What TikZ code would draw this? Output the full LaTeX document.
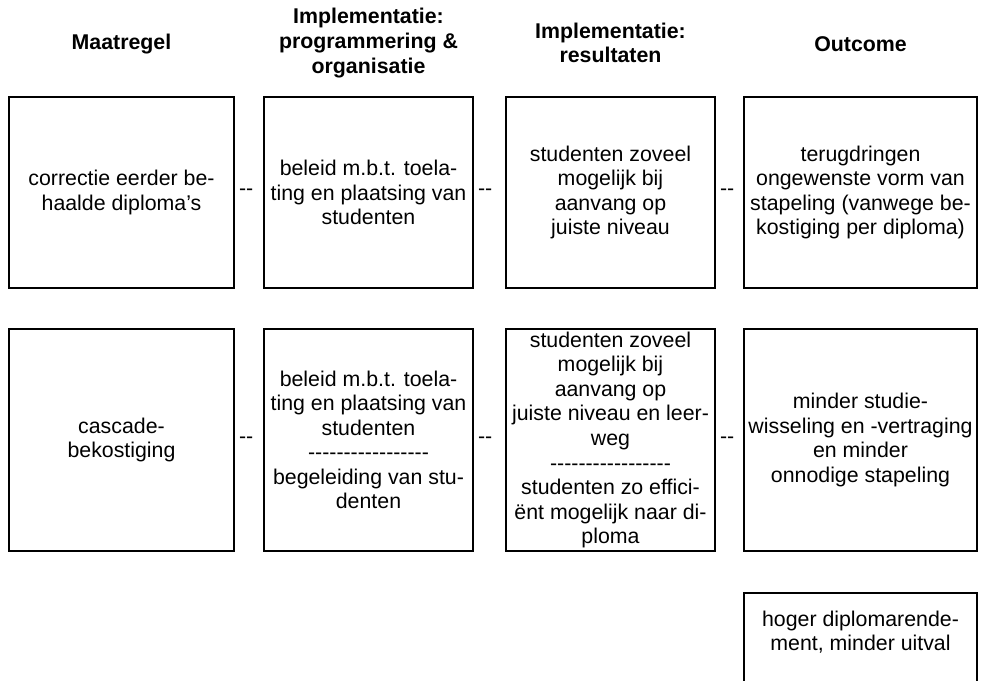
\documentclass[tikz,border=0pt]{standalone}
\usepackage{fontspec}
\setmainfont{Liberation Sans}
\usetikzlibrary{positioning}
\newcommand\dashrow{-{}-{}-{}-{}-{}-{}-{}-{}-{}-{}-{}-{}-{}-{}-{}-{}-}

\begin{document}
\begin{tikzpicture}[x=0.75pt,y=-0.75pt,
  cell/.style={draw,line width=1.3pt,inner sep=0pt,align=center,font=\fontsize{16}{18.4}\selectfont},
  head/.style={inner sep=0pt,align=center,font=\bfseries\fontsize{16}{18.4}\selectfont},
  link/.style={inner sep=0pt,font=\fontsize{16}{18.4}\selectfont},
  wa/.style={minimum width=168.75pt},
  wb/.style={minimum width=156.75pt},
  wc/.style={minimum width=174.75pt},
  ha/.style={minimum height=143.25pt},
  hb/.style={minimum height=166.5pt}]
\clip (0,0) rectangle (981,681);
% column heads
\node[head] (hm) at (121.5,44) {Maatregel};
\node[head] (hp) at (368.5,43) {Implementatie:\\programmering \&\\organisatie};
\node[head] (hr) at (610.5,43) {Implementatie:\\resultaten};
\node[head] (ho) at (860.5,44) {Outcome};
% first row
\node[cell,wa,ha] (m1) at (121.5,192.5) {correctie eerder be-\\haalde diploma’s};
\node[cell,wb,ha] (p1) at (368.5,192.5) {beleid m.b.t. toela-\\ting en plaatsing van\\studenten};
\node[cell,wb,ha] (r1) at (610.5,192.5) {studenten zoveel\\mogelijk bij\\aanvang op\\juiste niveau};
\node[cell,wc,ha] (o1) at (860.5,192.5) {terugdringen\\ongewenste vorm van\\stapeling (vanwege be-\\kostiging per diploma)};
% second row
\node[cell,wa,hb] (m2) at (121.5,440) {cascade-\\bekostiging};
\node[cell,wb,hb] (p2) at (368.5,440) {beleid m.b.t. toela-\\ting en plaatsing van\\studenten\\\dashrow\\begeleiding van stu-\\denten};
\node[cell,wb,hb] (r2) at (610.5,440) {studenten zoveel\\mogelijk bij\\aanvang op\\juiste niveau en leer-\\weg\\\dashrow\\studenten zo effici-\\ënt mogelijk naar di-\\ploma};
\node[cell,wc,hb] (o2) at (860.5,440) {minder studie-\\wisseling en -vertraging\\en minder\\onnodige stapeling};
% third row, cut off at the bottom
\node[cell,wc,minimum height=90pt,anchor=north] (o3) at (860.5,592) {};
\node[link,align=center] (o3t) at (860.5,632) {hoger diplomarende-\\ment, minder uitval};
% links between the boxes
\node[link,right=3pt of m1] (l1) {-{}-};
\node[link,right=3pt of p1] (l2) {-{}-};
\node[link,right=3pt of r1] (l3) {-{}-};
\node[link,right=3pt of m2] (l4) {-{}-};
\node[link,right=3pt of p2] (l5) {-{}-};
\node[link,right=3pt of r2] (l6) {-{}-};
\end{tikzpicture}
\end{document}
